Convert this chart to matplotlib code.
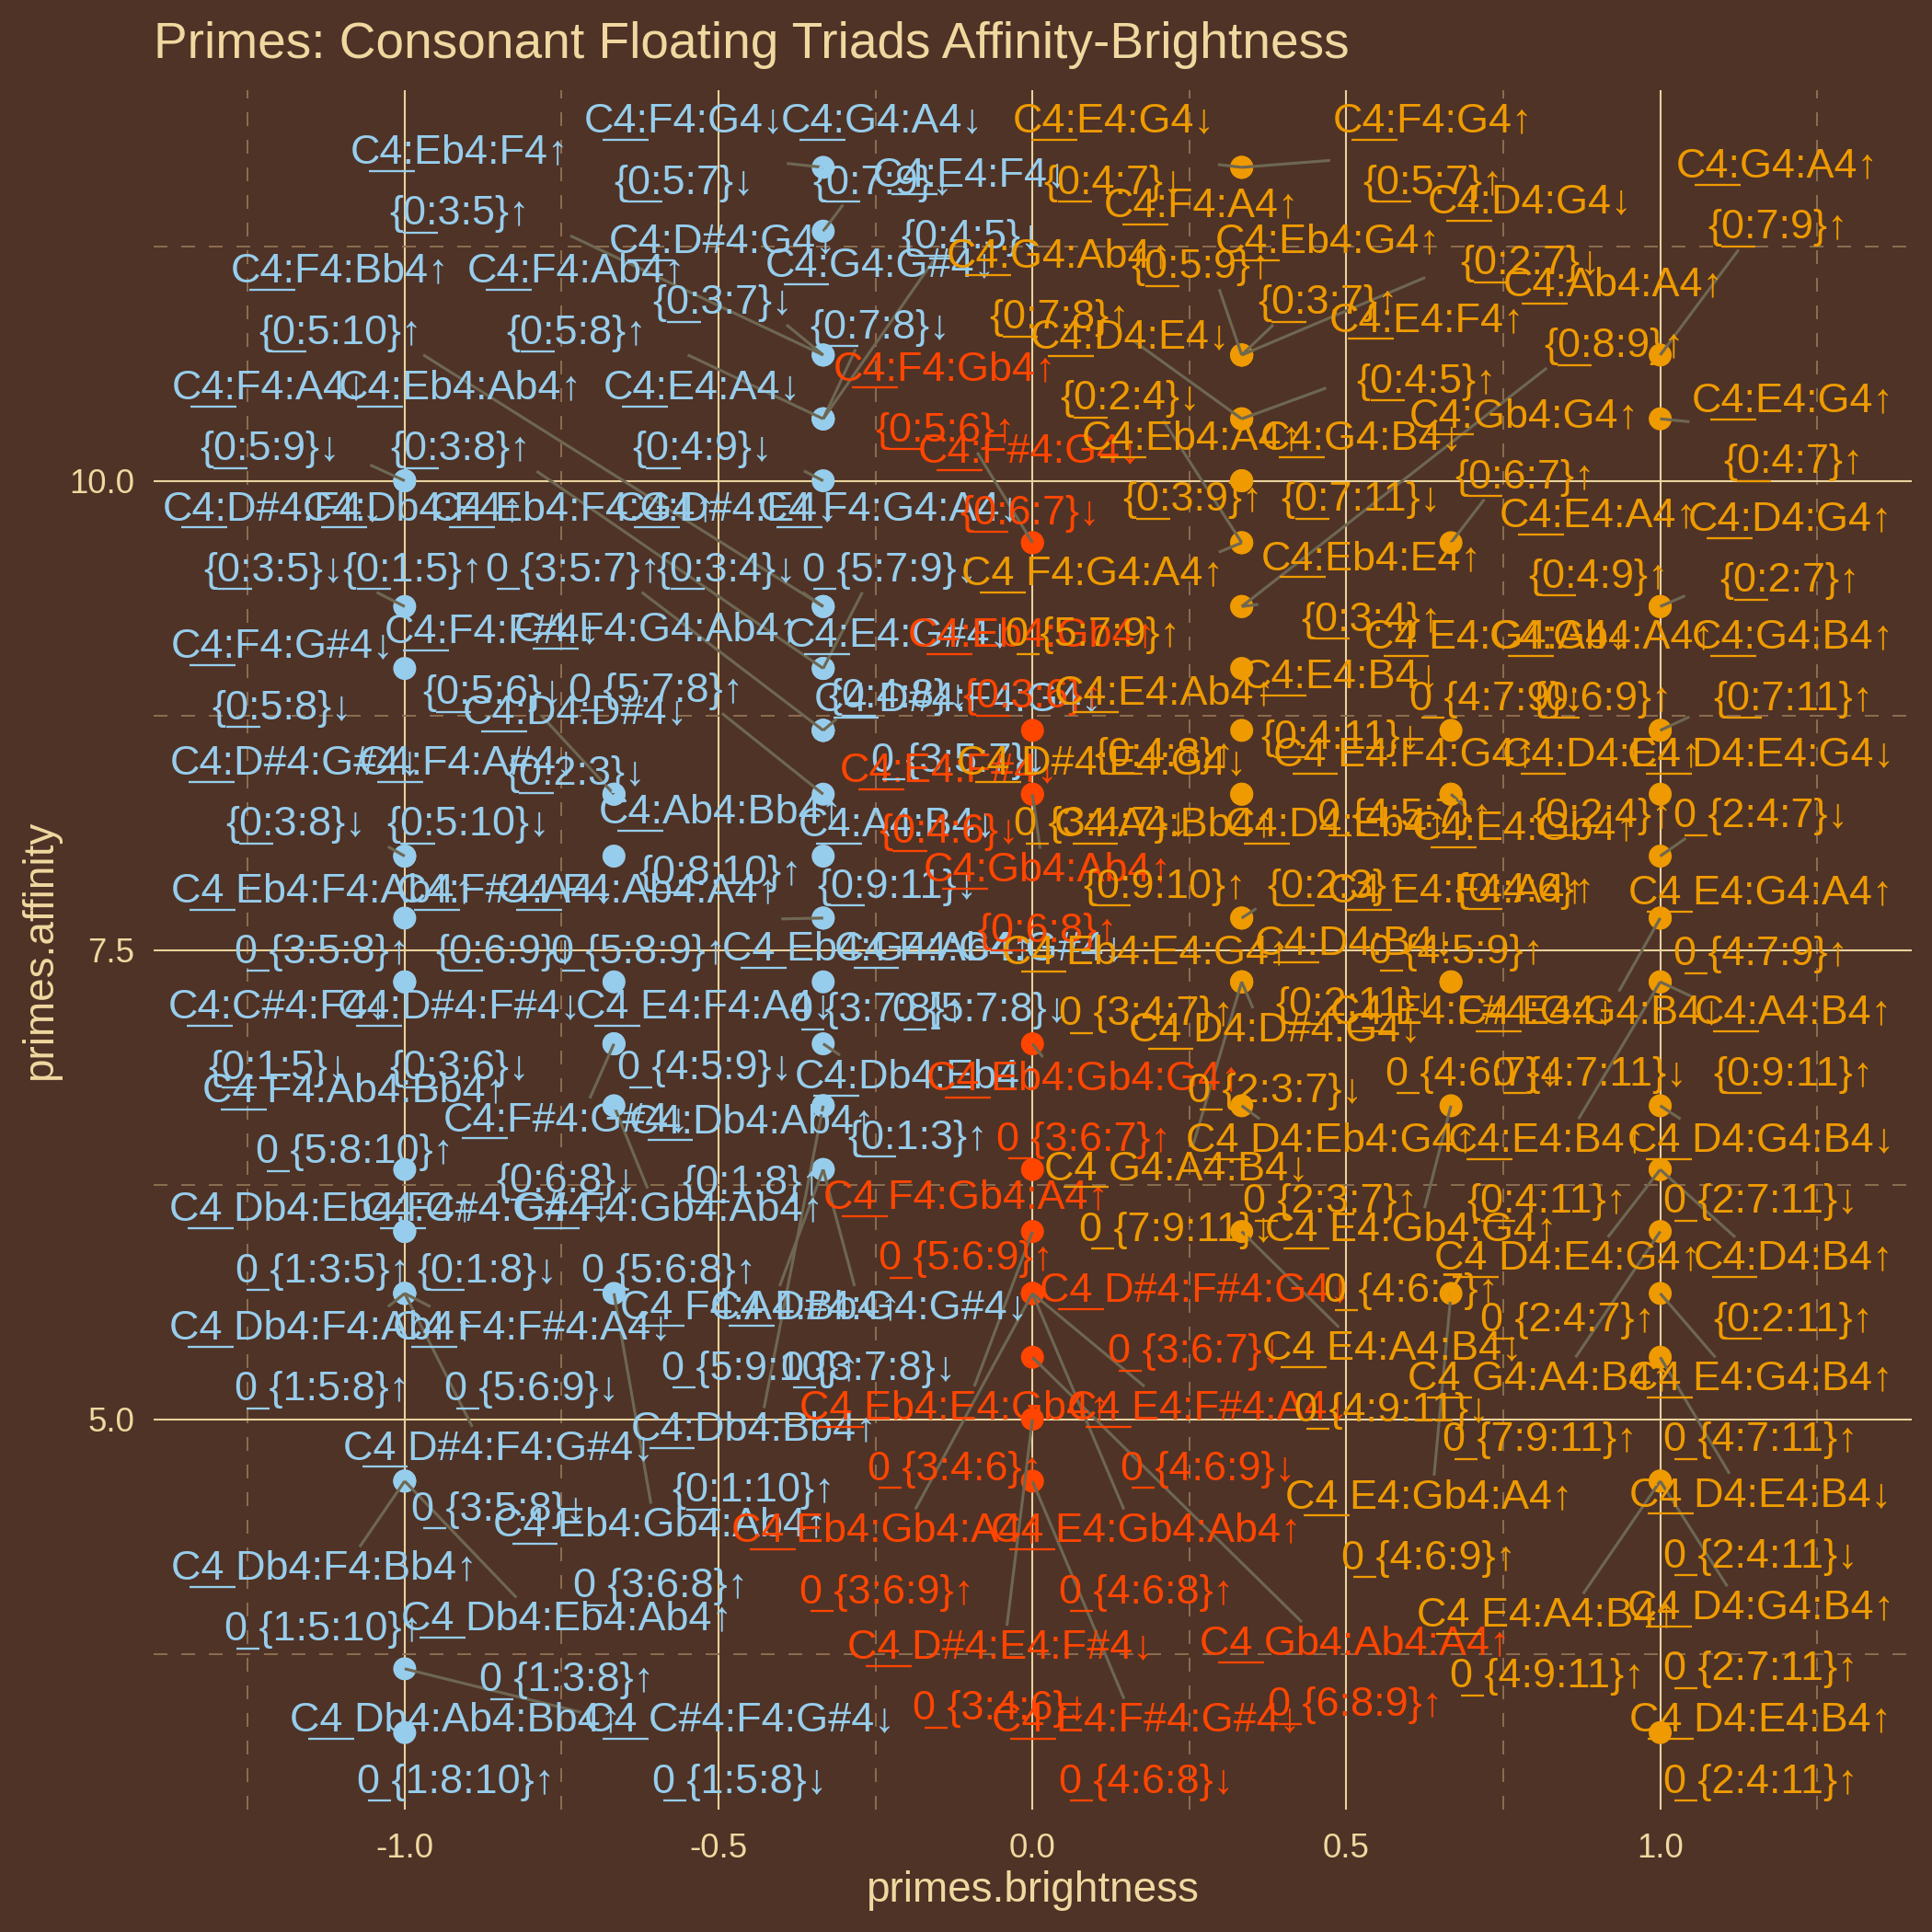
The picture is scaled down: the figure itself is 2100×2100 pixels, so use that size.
import matplotlib
matplotlib.use("Agg")
import matplotlib.pyplot as plt
from matplotlib.transforms import Bbox

plt.rcParams["font.family"] = ["Liberation Sans", "DejaVu Sans"]

title = "Primes: Consonant Floating Triads Affinity-Brightness"
x_title = "primes.brightness"
y_title = "primes.affinity"
x_ticks = [-1.0, -0.5, 0.0, 0.5, 1.0]
y_ticks = [5.0, 7.5, 10.0]

chords = [
    # brightness < 0
    "C4:F4:G4↓", "C4:G4:A4↓", "C4:Eb4:F4↑", "C4:E4:F4↓", "C4:D#4:G4↓",
    "C4:G4:G#4↓", "C4:F4:Bb4↑", "C4:F4:Ab4↑", "C4:F4:A4↓", "C4:Eb4:Ab4↑",
    "C4:E4:A4↓", "C4:D#4:F4↓", "C4:Db4:F4↑", "C4_Eb4:F4:G4↑", "C4:D#4:E4↓",
    "C4_F4:G4:A4↓", "C4:F4:G#4↓", "C4:F4:F#4↓", "C4_F4:G4:Ab4↑", "C4:E4:G#4↓",
    "C4:D4:D#4↓", "C4:D#4:G#4↓", "C4:F4:A#4↓", "C4:Ab4:Bb4↑", "C4:A4:B4↓",
    "C4_Eb4:F4:Ab4↑", "C4:F#4:A4↓", "C4_F4:Ab4:A4↑", "C4_Eb4:G4:Ab4↑", "C4_F4:G4:G#4↓",
    "C4:C#4:F4↓", "C4:D#4:F#4↓", "C4_E4:F4:A4↓", "C4:Db4:Eb4↑", "C4_F4:Ab4:Bb4↑",
    "C4:F#4:G#4↓", "C4:Db4:Ab4↑", "C4_Db4:Eb4:F4↑", "C4:C#4:G#4↓", "C4_F4:Gb4:Ab4↑",
    "C4_Db4:F4:Ab4↑", "C4_F4:F#4:A4↓", "C4_F4:A4:Bb4↑", "C4_D#4:G4:G#4↓", "C4:Db4:Bb4↑",
    "C4_D#4:F4:G#4↓", "C4_Eb4:Gb4:Ab4↑", "C4_Db4:F4:Bb4↑", "C4_Db4:Eb4:Ab4↑", "C4_Db4:Ab4:Bb4↑",
    "C4_C#4:F4:G#4↓", "C4_D#4:F4:G4↓",
    # brightness = 0
    "C4:F4:Gb4↑", "C4:F#4:G4↓", "C4:Eb4:Gb4↑", "C4:E4:F#4↓", "C4:Gb4:Ab4↑",
    "C4_Eb4:Gb4:G4↑", "C4_F4:Gb4:A4↑", "C4_D#4:F#4:G4↓", "C4_Eb4:E4:Gb4↑", "C4_E4:F#4:A4↓",
    "C4_Eb4:Gb4:A4↑", "C4_E4:Gb4:Ab4↑", "C4_D#4:E4:F#4↓", "C4_Gb4:Ab4:A4↑", "C4_E4:F#4:G#4↓",
    # brightness > 0
    "C4:E4:G4↓", "C4:F4:G4↑", "C4:G4:Ab4↑", "C4:F4:A4↑", "C4:D4:E4↓",
    "C4:Eb4:G4↑", "C4:D4:G4↓", "C4:G4:A4↑", "C4:Ab4:A4↑", "C4:E4:F4↑",
    "C4:Gb4:G4↑", "C4:E4:G4↑", "C4:Eb4:A4↑", "C4:G4:B4↓", "C4:E4:A4↑",
    "C4:D4:G4↑", "C4:Eb4:E4↑", "C4_F4:G4:A4↑", "C4_E4:G4:A4↓", "C4:Gb4:A4↑",
    "C4:G4:B4↑", "C4:E4:Ab4↑", "C4:E4:B4↓", "C4_D#4:E4:G4↓", "C4_E4:F4:G4↑",
    "C4:D4:E4↑", "C4_D4:E4:G4↓", "C4:A4:Bb4↑", "C4:D4:Eb4↑", "C4:E4:Gb4↑",
    "C4_E4:F4:A4↑", "C4_E4:G4:A4↑", "C4:D4:B4↓", "C4_Eb4:E4:G4↑", "C4_D4:D#4:G4↓",
    "C4_E4:F#4:G4↓", "C4_E4:G4:B4↓", "C4:A4:B4↑", "C4_D4:Eb4:G4↑", "C4_G4:A4:B4↓",
    "C4:E4:B4↑", "C4_E4:Gb4:G4↑", "C4_D4:G4:B4↓", "C4_D4:E4:G4↑", "C4:D4:B4↑",
    "C4_G4:A4:B4↑", "C4_E4:G4:B4↑", "C4_E4:A4:B4↓", "C4_E4:Gb4:A4↑", "C4_D4:E4:B4↓",
    "C4_E4:A4:B4↑", "C4_D4:G4:B4↑", "C4_D4:E4:B4↑",
]

intervals = [
    "{0:5:7}↓", "{0:7:9}↓", "{0:3:5}↑", "{0:4:5}↓", "{0:3:7}↓",
    "{0:7:8}↓", "{0:5:10}↑", "{0:5:8}↑", "{0:5:9}↓", "{0:3:8}↑",
    "{0:4:9}↓", "{0:3:5}↓", "{0:1:5}↑", "0_{3:5:7}↑", "{0:3:4}↓",
    "0_{5:7:9}↓", "{0:5:8}↓", "{0:5:6}↓", "0_{5:7:8}↑", "{0:4:8}↓",
    "{0:2:3}↓", "{0:3:8}↓", "{0:5:10}↓", "{0:8:10}↑", "{0:9:11}↓",
    "0_{3:5:8}↑", "{0:6:9}↓", "0_{5:8:9}↑", "0_{3:7:8}↑", "0_{5:7:8}↓",
    "{0:1:5}↓", "{0:3:6}↓", "0_{4:5:9}↓", "{0:1:3}↑", "0_{5:8:10}↑",
    "{0:6:8}↓", "{0:1:8}↑", "0_{1:3:5}↑", "{0:1:8}↓", "0_{5:6:8}↑",
    "0_{1:5:8}↑", "0_{5:6:9}↓", "0_{5:9:10}↑", "0_{3:7:8}↓", "{0:1:10}↑",
    "0_{3:5:8}↓", "0_{3:6:8}↑", "0_{1:5:10}↑", "0_{1:3:8}↑", "0_{1:8:10}↑",
    "0_{1:5:8}↓", "0_{3:5:7}↓",
    "{0:5:6}↑", "{0:6:7}↓", "{0:3:6}↑", "{0:4:6}↓", "{0:6:8}↑",
    "0_{3:6:7}↑", "0_{5:6:9}↑", "0_{3:6:7}↓", "0_{3:4:6}↑", "0_{4:6:9}↓",
    "0_{3:6:9}↑", "0_{4:6:8}↑", "0_{3:4:6}↓", "0_{6:8:9}↑", "0_{4:6:8}↓",
    "{0:4:7}↓", "{0:5:7}↑", "{0:7:8}↑", "{0:5:9}↑", "{0:2:4}↓",
    "{0:3:7}↑", "{0:2:7}↓", "{0:7:9}↑", "{0:8:9}↑", "{0:4:5}↑",
    "{0:6:7}↑", "{0:4:7}↑", "{0:3:9}↑", "{0:7:11}↓", "{0:4:9}↑",
    "{0:2:7}↑", "{0:3:4}↑", "0_{5:7:9}↑", "0_{4:7:9}↓", "{0:6:9}↑",
    "{0:7:11}↑", "{0:4:8}↑", "{0:4:11}↓", "0_{3:4:7}↓", "0_{4:5:7}↑",
    "{0:2:4}↑", "0_{2:4:7}↓", "{0:9:10}↑", "{0:2:3}↑", "{0:4:6}↑",
    "0_{4:5:9}↑", "0_{4:7:9}↑", "{0:2:11}↓", "0_{3:4:7}↑", "0_{2:3:7}↓",
    "0_{4:6:7}↓", "0_{4:7:11}↓", "{0:9:11}↑", "0_{2:3:7}↑", "0_{7:9:11}↓",
    "{0:4:11}↑", "0_{4:6:7}↑", "0_{2:7:11}↓", "0_{2:4:7}↑", "{0:2:11}↑",
    "0_{7:9:11}↑", "0_{4:7:11}↑", "0_{4:9:11}↓", "0_{4:6:9}↑", "0_{2:4:11}↓",
    "0_{4:9:11}↑", "0_{2:7:11}↑", "0_{2:4:11}↑",
]

brightness = [
    -1/3, -1/3, -1/3, -1/3, -1/3, -1/3, -1/3, -1/3, -1, -1/3,
    -1/3, -1, -1, -1/3, -1/3, -1/3, -1, -2/3, -1/3, -1/3,
    -2/3, -1, -1, -2/3, -1/3, -1, -2/3, -1/3, -1/3, -1/3,
    -1, -1, -2/3, -1/3, -1, -2/3, -1/3, -1, -1, -2/3,
    -1, -1, -1/3, -1/3, -1/3, -1, -2/3, -1, -1, -1,
    -1, -1/3,
    0, 0, 0, 0, 0, 0, 0, 0, 0, 0, 0, 0, 0, 0, 0,
    1/3, 1/3, 1/3, 1/3, 1/3, 1/3, 1/3, 1, 1/3, 1/3,
    2/3, 1, 1/3, 1/3, 1, 1, 1/3, 1/3, 2/3, 1,
    1, 1/3, 1/3, 1/3, 2/3, 1, 1, 1/3, 1/3, 2/3,
    2/3, 1, 1/3, 1/3, 1/3, 2/3, 1, 1, 1/3, 1/3,
    1, 2/3, 1, 1, 1, 1, 1, 1/3, 2/3, 1,
    1, 1, 1,
]

affinity = [
    11.67, 11.33, 10.67, 10.33, 10.67, 10.33, 9.33, 10.33, 10.0, 9.0,
    10.0, 9.33, 10.0, 8.67, 9.33, 9.0, 9.0, 8.33, 8.33, 8.67,
    8.33, 8.0, 8.0, 8.0, 8.0, 7.67, 7.33, 7.67, 7.67, 7.33,
    7.33, 7.33, 7.0, 7.0, 6.33, 7.0, 6.67, 6.0, 6.0, 6.67,
    5.67, 5.67, 6.33, 6.33, 6.67, 5.67, 5.67, 4.67, 4.67, 3.33,
    3.67, 8.67,
    9.67, 9.67, 8.67, 8.33, 8.33, 7.0, 6.33, 5.67, 6.0, 5.67,
    5.67, 5.67, 5.0, 5.33, 4.67,
    11.67, 11.67, 10.33, 10.67, 9.67, 10.67, 10.67, 10.67, 9.33, 10.33,
    9.67, 10.33, 10.0, 10.0, 9.33, 9.33, 9.33, 9.67, 8.67, 8.67,
    8.67, 8.67, 9.0, 8.33, 8.33, 8.33, 8.0, 8.33, 7.67, 8.33,
    7.33, 7.67, 7.67, 7.33, 7.33, 7.33, 7.67, 7.33, 6.67, 7.33,
    7.33, 6.67, 6.67, 6.33, 6.33, 6.0, 5.67, 6.0, 5.67, 5.33,
    4.67, 4.67, 3.33,
]

# where the repel step left each two-line label (centre of the block)
label_x = [
    -0.555, -0.239, -0.913, -0.098, -0.493, -0.243, -1.103, -0.726, -1.215, -0.911,
    -0.526, -1.209, -0.987, -0.732, -0.487, -0.228, -1.195, -0.860, -0.599, -0.214,
    -0.728, -1.174, -0.899, -0.497, -0.216, -1.131, -0.840, -0.628, -0.247, -0.084,
    -1.201, -0.913, -0.522, -0.183, -1.080, -0.742, -0.447, -1.131, -0.869, -0.579,
    -1.131, -0.797, -0.434, -0.261, -0.444, -0.850, -0.593, -1.129, -0.742, -0.919,
    -0.467, -0.118,
    -0.139, -0.004, 0.0, -0.133, 0.024, 0.082, -0.106, 0.259, -0.124, 0.279,
    -0.232, 0.181, -0.051, 0.514, 0.181,
    0.130, 0.638, 0.043, 0.269, 0.155, 0.471, 0.793, 1.187, 0.926, 0.628,
    0.784, 1.212, 0.255, 0.524, 0.901, 1.207, 0.540, 0.096, 0.740, 0.907,
    1.212, 0.210, 0.491, 0.110, 0.593, 0.907, 1.160, 0.210, 0.485, 0.784,
    0.675, 1.160, 0.514, 0.181, 0.387, 0.701, 0.887, 1.212, 0.475, 0.230,
    0.820, 0.603, 1.160, 0.852, 1.212, 0.809, 1.160, 0.573, 0.632, 1.160,
    0.820, 1.160, 1.160,
]

label_y = [
    11.75, 11.75, 11.585, 11.46, 11.11, 10.98, 10.95, 10.95, 10.33, 10.33,
    10.33, 9.685, 9.685, 9.685, 9.685, 9.685, 8.95, 9.03, 9.04, 9.01,
    8.60, 8.33, 8.33, 8.07, 8.00, 7.65, 7.65, 7.65, 7.34, 7.34,
    7.03, 7.03, 7.03, 6.66, 6.585, 6.43, 6.42, 5.95, 5.95, 5.95,
    5.32, 5.32, 5.43, 5.43, 4.78, 4.68, 4.27, 4.04, 3.77, 3.23,
    3.23, 8.67,
    10.43, 9.99, 9.01, 8.29, 7.76, 6.65, 6.015, 5.52, 4.895, 4.895,
    4.24, 4.24, 3.62, 3.64, 3.23,
    11.75, 11.75, 11.03, 11.30, 10.60, 11.11, 11.32, 11.51, 10.88, 10.69,
    10.18, 10.26, 10.06, 10.06, 9.65, 9.63, 9.42, 9.34, 9.00, 9.00,
    9.00, 8.70, 8.79, 8.33, 8.375, 8.375, 8.375, 8.00, 8.00, 7.98,
    7.65, 7.64, 7.37, 7.32, 6.91, 7.00, 7.00, 7.00, 6.32, 6.17,
    6.32, 5.845, 6.32, 5.69, 5.69, 5.05, 5.05, 5.21, 4.42, 4.43,
    3.79, 3.83, 3.23,
]

BG = "#4f3327"
INK = "#f0d8a0"
GRID_MAJOR = "#e9d29c"
GRID_MINOR = "#8e7052"
SEGMENT = "#6e6752"
BLUE = "#97cdec"
RED = "#ff4500"
ORANGE = "#ee9a00"
FS = 10.8


def point_colour(b):
    if b < 0:
        return BLUE
    if b > 0:
        return ORANGE
    return RED


def clip_to_box(px, py, box, pad):
    """End of the segment from (px, py) towards the box centre, cut at the box edge."""
    x0, x1 = box.x0 - pad, box.x1 + pad
    y0, y1 = box.y0 - pad, box.y1 + pad
    if x0 <= px <= x1 and y0 <= py <= y1:
        return None
    cx, cy = (box.x0 + box.x1) / 2, (box.y0 + box.y1) / 2
    dx, dy = cx - px, cy - py
    t = 0.0
    if px < x0:
        t = max(t, (x0 - px) / dx)
    elif px > x1:
        t = max(t, (x1 - px) / dx)
    if py < y0:
        t = max(t, (y0 - py) / dy)
    elif py > y1:
        t = max(t, (y1 - py) / dy)
    return px + t * dx, py + t * dy


fig = plt.figure(figsize=(7, 7), dpi=300, facecolor=BG)
ax = fig.add_axes([0.0795, 0.0631, 0.9098, 0.8904])
ax.set_facecolor(BG)
ax.set_xlim(-1.4, 1.4)
ax.set_ylim(2.917, 12.083)

ax.set_xticks(x_ticks, labels=[f"{v:.1f}" for v in x_ticks])
ax.set_yticks(y_ticks, labels=[f"{v:.1f}" for v in y_ticks])
ax.set_xticks([-1.25, -0.75, -0.25, 0.25, 0.75, 1.25], minor=True)
ax.set_yticks([3.75, 6.25, 8.75, 11.25], minor=True)
ax.grid(which="major", color=GRID_MAJOR, lw=0.5)
ax.grid(which="minor", color=GRID_MINOR, lw=0.45, ls=(0, (8, 8)))
ax.set_axisbelow(True)
for s in ax.spines.values():
    s.set_visible(False)
ax.tick_params(which="both", length=0, colors=INK, labelsize=8.8)
ax.tick_params(axis="x", pad=6)
ax.tick_params(axis="y", pad=5)

colours = [point_colour(b) for b in brightness]
ax.scatter(brightness, affinity, s=36, c=colours, linewidths=0, zorder=2)

dy = 0.164
texts = []
for ch, iv, lx, ly, col in zip(chords, intervals, label_x, label_y, colours):
    t1 = ax.text(lx, ly + dy, ch.replace("_", " "), ha="center", va="center",
                 color=col, fontsize=FS, zorder=4)
    t2 = ax.text(lx, ly - dy, iv.replace("_", " "), ha="center", va="center",
                 color=col, fontsize=FS, zorder=4)
    texts.append((t1, t2, col))

fig.text(0.0795, 0.970, title, color=INK, fontsize=13.2, ha="left", va="baseline")
fig.text(0.5344, 0.0157, x_title, color=INK, fontsize=11, ha="center", va="baseline")
fig.text(0.021, 0.5083, y_title, color=INK, fontsize=11, ha="center", va="center",
         rotation=90)

fig.canvas.draw()
renderer = fig.canvas.get_renderer()
inv = ax.transData.inverted()
fs_px = FS * fig.dpi / 72


def text_width(s, prop):
    return renderer.get_text_width_height_descent(s, prop, ismath=False)[0]


def underline(t, start, end, col):
    """Short rule under the characters of t between the two x offsets."""
    box = t.get_window_extent(renderer)
    prop = t.get_fontproperties()
    d = max(renderer.get_text_width_height_descent(t.get_text(), prop, ismath=False)[2],
            renderer.get_text_width_height_descent("lp", prop, ismath=False)[2])
    base = box.y0 + d
    y = base - 0.19 * fs_px
    (x0, y0), (x1, y1) = inv.transform([(box.x0 + start, y), (box.x0 + end, y)])
    ax.plot([x0, x1], [y0, y1], color=col, lw=0.55, zorder=4, solid_capstyle="butt")


for (t1, t2, col), bx, ay in zip(texts, brightness, affinity):
    # underline marks in the labels
    prop = t1.get_fontproperties()
    s1 = t1.get_text()
    underline(t1, 0.62 * text_width(s1[0], prop), text_width(s1[:3], prop), col)
    s2 = t2.get_text()
    if s2.startswith("{"):
        underline(t2, text_width(s2[0], prop), text_width(s2[:3], prop), col)
    else:
        underline(t2, 0.5 * text_width(s2[0], prop), text_width(s2[:2], prop), col)

    # segment from the point to its label, like ggrepel
    box = Bbox.union([t1.get_window_extent(renderer), t2.get_window_extent(renderer)])
    px, py = ax.transData.transform((bx, ay))
    end = clip_to_box(px, py, box, 3)
    if end is None:
        continue
    if ((end[0] - px) ** 2 + (end[1] - py) ** 2) ** 0.5 < 18:
        continue
    (x0, y0), (x1, y1) = inv.transform([(px, py), end])
    ax.plot([x0, x1], [y0, y1], color=SEGMENT, lw=0.75, zorder=3,
            solid_capstyle="butt")

fig.savefig("out.png", dpi=300, facecolor=BG)
